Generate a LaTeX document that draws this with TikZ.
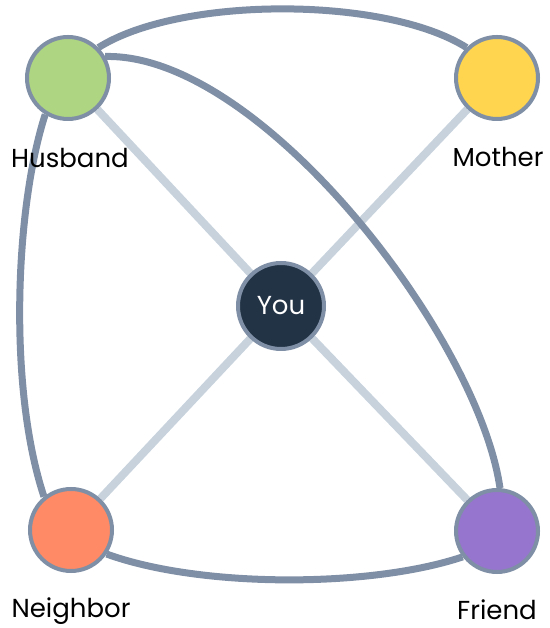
\documentclass[tikz,border=0pt]{standalone}
\usepackage{fontspec}
\setmainfont{Poppins}
\usetikzlibrary{positioning,backgrounds}
\definecolor{Edge}{HTML}{7F8FA5}
\definecolor{Spoke}{HTML}{C7D2DD}
\definecolor{Green}{HTML}{AED581}
\definecolor{Yellow}{HTML}{FFD54F}
\definecolor{Navy}{HTML}{233346}
\definecolor{Coral}{HTML}{FF8A65}
\definecolor{Violet}{HTML}{9575CD}

\begin{document}
\begin{tikzpicture}[x=1pt,y=1pt,
    person/.style={circle,draw=Edge,line width=4pt,minimum size=82pt,inner sep=0pt},
    spoke/.style={draw=Spoke,line width=8pt},
    tie/.style={draw=Edge,line width=7pt},
    tag/.style={anchor=base,font=\fontsize{26}{30}\selectfont}]
    \useasboundingbox (0,0) rectangle (549,628);
    % people
    \node[person,fill=Green] (hus) at (68,550) {};
    \node[person,fill=Yellow] (mom) at (497,550) {};
    \node[person,fill=Navy,minimum size=86pt,text=white,font=\fontsize{26}{30}\selectfont] (you) at (281,322) {You};
    \node[person,fill=Coral] (nei) at (71,98) {};
    \node[person,fill=Violet] (fri) at (497,97) {};
    \begin{pgfonlayer}{background}
    % spokes to the centre
    \foreach \p in {hus,mom,nei,fri}
      \path[spoke] (you) -- (\p);
    % ties between the others
    \path[tie] (hus.45) .. controls (180,632) and (385,632) .. (mom.135);
    \path[tie] (hus.30) .. controls (260,575) and (478,292) .. (fri.86);
    \path[tie] (hus.238) .. controls (15,420) and (8,240) .. (nei.129);
    \path[tie] (nei.-34) .. controls (200,40) and (370,40) .. (fri.217);
    \end{pgfonlayer}
    % names
    \node[tag] (husname) at (70,460) {Husband};
    \node[tag] (momname) at (498,461) {Mother};
    \node[tag] (neiname) at (71,10) {Neighbor};
    \node[tag] (friname) at (497,9) {Friend};
\end{tikzpicture}
\end{document}
